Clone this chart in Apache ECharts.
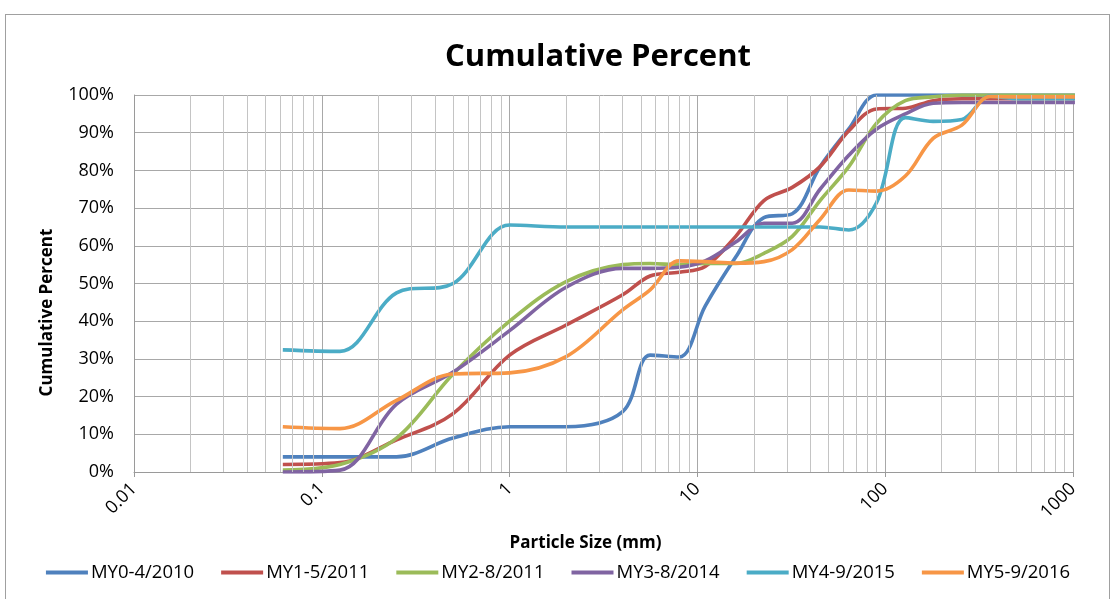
<!DOCTYPE html>
<html>
<head>
<meta charset="utf-8">
<script src="https://cdn.jsdelivr.net/npm/echarts@6/dist/echarts.min.js"></script>
<style>
  html, body { margin: 0; padding: 0; background: #fff; }
  #chart { width: 1116px; height: 599px; position: relative; }
  #frame { position: absolute; left: 5px; top: 14px; width: 1105px; height: 600px; border: 1px solid #a0a0a0; box-sizing: border-box; pointer-events: none; }
</style>
</head>
<body>
<div id="chart"></div>
<div id="frame"></div>
<script>
// Particle sizes (mm)
const sizes = [0.062, 0.125, 0.25, 0.5, 1, 2, 4, 5.6, 8, 11, 16, 22.6, 32, 45, 64, 90, 128, 180, 256, 362, 512, 1024];
const seriesNames = ['MY0-4/2010', 'MY1-5/2011', 'MY2-8/2011', 'MY3-8/2014', 'MY4-9/2015', 'MY5-9/2016'];
const my0 = [4, 4, 4, 9, 12, 12, 16, 31, 30.5, 44, 57, 67.5, 68.5, 81, 91, 100, 100, 100, 100, 100, 100, 100];
const my1 = [2, 2.5, 8.5, 15.5, 31, 39, 47, 52, 53, 54.5, 62.5, 72, 75.5, 81, 90.5, 96.3, 96.5, 98.5, 99, 99, 99, 99];
const my2 = [0.5, 2, 9, 26, 40, 50.5, 55, 55.3, 55, 55.3, 55.3, 58, 62.5, 72, 81, 92.5, 98.5, 99.5, 100, 100, 100, 100];
const my3 = [0, 0.5, 18, 26.5, 37.5, 49, 54, 54, 54.3, 56, 61, 66, 66, 75, 84, 91, 95, 97.8, 98, 98, 98, 98];
const my4 = [32.4, 32, 47.5, 50, 65.5, 65, 65, 65, 65, 65, 65, 65, 65, 65, 64.2, 71.5, 94, 93, 93.5, 99.7, 99, 99];
const my5 = [12, 11.5, 19, 26, 26.3, 30.6, 43, 48.3, 56, 55.8, 55.4, 55.8, 59, 67, 74.8, 74.5, 78.5, 88.5, 92, 99.6, 99.5, 99.5];
const seriesValues = [my0, my1, my2, my3, my4, my5];
const colors = ['#4F81BD', '#C0504D', '#9BBB59', '#8064A2', '#4BACC6', '#F79646'];
const xTicks = [0.01, 0.1, 1, 10, 100, 1000];

// minor log grid lines (2..9 within each decade)
const minorGrid = [];
for (let d = 0; d < xTicks.length - 1; d++) {
  for (let k = 2; k <= 9; k++) minorGrid.push({ xAxis: +(xTicks[d] * k).toPrecision(3) });
}

const fontFam = '"Open Sans", "Liberation Sans", sans-serif';

const series = seriesNames.map((name, i) => ({
  name: name,
  type: 'line',
  data: sizes.map((s, j) => [s, seriesValues[i][j]]),
  smooth: 0.35,
  showSymbol: false,
  symbol: 'none',
  lineStyle: { width: 3.6, color: colors[i] },
  itemStyle: { color: colors[i] },
  z: 3,
  animation: false
}));

series.unshift({
  name: 'grid',
  type: 'line',
  data: [],
  silent: true,
  z: 1,
  animation: false,
  markLine: {
    silent: true,
    symbol: 'none',
    animation: false,
    label: { show: false },
    lineStyle: { color: '#c4c4c4', width: 1, type: 'solid' },
    emphasis: { disabled: true },
    data: minorGrid
  }
});

const chart = echarts.init(document.getElementById('chart'), null, { renderer: 'canvas' });
chart.setOption({
  backgroundColor: 'transparent',
  animation: false,
  title: {
    text: 'Cumulative Percent',
    top: 37,
    left: 593,
    textAlign: 'center',
    textStyle: { fontFamily: fontFam, fontWeight: 'bold', fontSize: 31, color: '#000' }
  },
  grid: { left: 134, right: 43, top: 95, bottom: 127, containLabel: false },
  legend: {
    data: seriesNames,
    bottom: 12,
    left: 'center',
    icon: 'rect',
    itemWidth: 42,
    itemHeight: 4,
    itemGap: 27,
    textStyle: { fontFamily: fontFam, fontSize: 18.5, color: '#000', padding: [0, 0, 0, -2] }
  },
  xAxis: {
    type: 'log',
    logBase: 10,
    min: 0.01,
    max: 1000,
    name: 'Particle Size (mm)',
    nameLocation: 'middle',
    nameGap: 63,
    nameTextStyle: { fontFamily: fontFam, fontWeight: 'bold', fontSize: 17, color: '#000', padding: [0, 36, 0, 0] },
    axisLine: { show: true, lineStyle: { color: '#9a9a9a', width: 1 } },
    axisTick: { show: true, length: 5, lineStyle: { color: '#9a9a9a' } },
    axisLabel: {
      rotate: 45,
      fontFamily: fontFam,
      fontSize: 18,
      color: '#000',
      margin: 14,
      formatter: v => String(v)
    },
    splitLine: { show: true, lineStyle: { color: '#a8a8a8', width: 1 } }
  },
  yAxis: {
    type: 'value',
    min: 0,
    max: 100,
    interval: 10,
    name: 'Cumulative Percent',
    nameLocation: 'middle',
    nameGap: 78,
    nameRotate: 90,
    nameTextStyle: { fontFamily: fontFam, fontWeight: 'bold', fontSize: 17, color: '#000', padding: [0, 58, 0, 0] },
    axisLine: { show: true, lineStyle: { color: '#9a9a9a', width: 1 } },
    axisTick: { show: false },
    axisLabel: { fontFamily: fontFam, fontSize: 18, color: '#000', margin: 20, formatter: '{value}%' },
    splitLine: { show: true, lineStyle: { color: '#a8a8a8', width: 1 } }
  },
  series: series
});
</script>
</body>
</html>
